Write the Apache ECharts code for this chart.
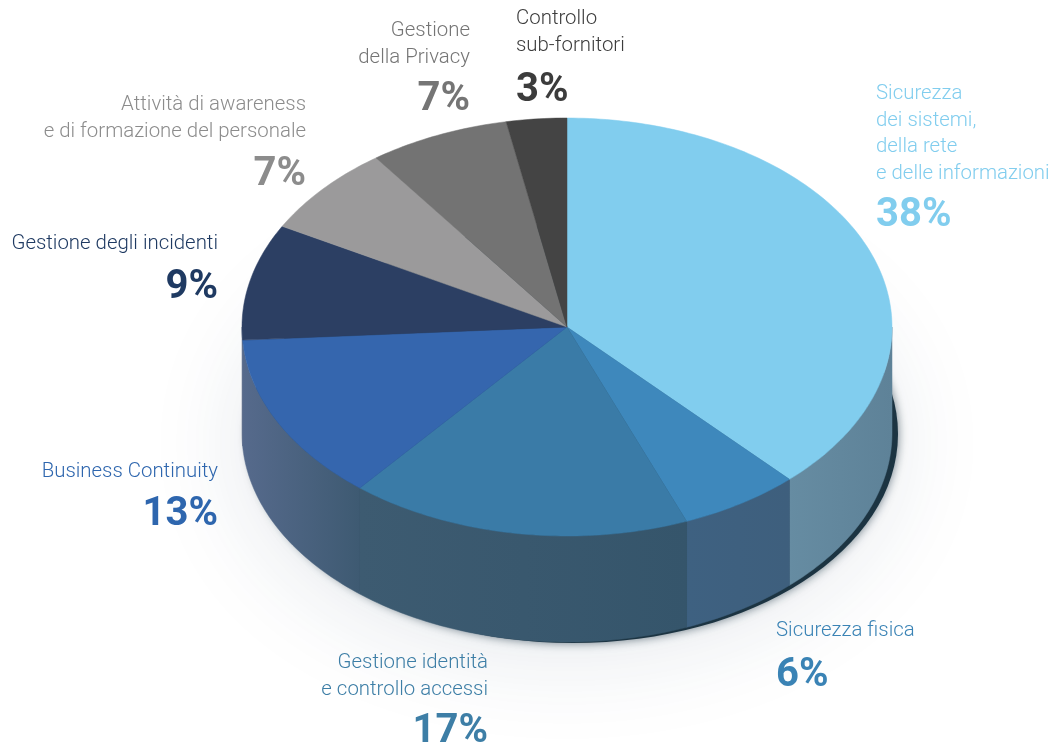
<!DOCTYPE html>
<html lang="it">
<head>
<meta charset="utf-8">
<title>Distribuzione degli interventi di sicurezza</title>
<style>
  html, body { margin: 0; padding: 0; background: #fff; }
  #chart { width: 1054px; height: 744px; }
</style>
<script src="https://cdn.jsdelivr.net/npm/echarts@6/dist/echarts.min.js"></script>
</head>
<body>
<div id="chart"></div>
<script>
// Slices, clockwise from twelve o'clock
const categories = [
  ['Sicurezza', 'dei sistemi,', 'della rete', 'e delle informazioni'],
  ['Sicurezza fisica'],
  ['Gestione identità', 'e controllo accessi'],
  ['Business Continuity'],
  ['Gestione degli incidenti'],
  ['Attività di awareness', 'e di formazione del personale'],
  ['Gestione', 'della Privacy'],
  ['Controllo', 'sub-fornitori']
];
const shares = [38, 6, 17, 13, 9, 7, 7, 3];

const topColors = ['#81cdee', '#3e88bc', '#3a7ba7', '#3566ae', '#2c3f63', '#9b9a9b', '#737373', '#444444'];
const wallColors = [
  ['#668ca2', '#5e8298'],
  ['#3e6181', '#3e5f7d'],
  ['#3d5b71', '#35556b'],
  ['#566a8c', '#3e5a72'],
  ['#5a6a88', '#566888'],
  ['#888', '#888'], ['#666', '#666'], ['#333', '#333']
];
const nameColors = ['#81cdee', '#3a83b5', '#3d7ea6', '#2e66ae', '#1f3a62', '#8c8c8c', '#757575', '#3c3c3c'];

// Label anchors: x, alignment, y of the first name line, y of the percentage
const labelLayout = [
  { x: 876, align: 'left',  nameY: 94,  pctY: 216 },
  { x: 776, align: 'left',  nameY: 631, pctY: 676 },
  { x: 488, align: 'right', nameY: 663, pctY: 732 },
  { x: 218, align: 'right', nameY: 472, pctY: 515 },
  { x: 218, align: 'right', nameY: 244, pctY: 288 },
  { x: 306, align: 'right', nameY: 105, pctY: 175 },
  { x: 470, align: 'right', nameY: 31,  pctY: 100 },
  { x: 516, align: 'left',  nameY: 19,  pctY: 91 }
];

// Pie projection
const CX = 567, CY = 327, RX = 325, RY = 209, DEPTH = 106;
const STEP = Math.PI / 180;
const total = shares.reduce((a, b) => a + b, 0);

function sliceAngles(i) {
  let before = 0;
  for (let k = 0; k < i; k++) before += shares[k];
  return [before / total * 2 * Math.PI, (before + shares[i]) / total * 2 * Math.PI];
}
function rimPoint(a, dy) {
  return [CX + RX * Math.sin(a), CY + dy - RY * Math.cos(a)];
}
function arcPoints(a0, a1, dy) {
  const pts = [];
  const n = Math.max(2, Math.ceil((a1 - a0) / STEP));
  for (let i = 0; i <= n; i++) pts.push(rimPoint(a0 + (a1 - a0) * i / n, dy));
  return pts;
}
function horizontal(c0, c1) {
  return new echarts.graphic.LinearGradient(0, 0, 1, 0, [
    { offset: 0, color: c0 }, { offset: 1, color: c1 }
  ]);
}

function renderShadow() {
  return {
    type: 'group',
    children: [
      { // wide pale halo on the ground
        type: 'ellipse',
        shape: { cx: CX, cy: CY + DEPTH + 10, rx: RX - 10, ry: RY - 10 },
        style: { fill: '#f4f6f8', shadowBlur: 110, shadowColor: 'rgba(30,60,90,0.14)' }
      },
      { // tight contact shadow along the base
        type: 'ellipse',
        shape: { cx: CX + 6, cy: CY + DEPTH + 1, rx: RX, ry: RY },
        style: { fill: '#1c3442', shadowBlur: 10, shadowColor: 'rgba(20,45,60,0.6)' }
      }
    ]
  };
}

function renderWall(params) {
  const i = params.dataIndex;
  const [a0, a1] = sliceAngles(i);
  const from = Math.max(a0, Math.PI / 2);
  const to = Math.min(a1, 3 * Math.PI / 2);
  if (to <= from) return { type: 'group', children: [] };
  const points = arcPoints(from, to, 0).concat(arcPoints(from, to, DEPTH).reverse());
  const fill = horizontal(wallColors[i][0], wallColors[i][1]);
  return {
    type: 'polygon',
    shape: { points },
    style: { fill, stroke: fill, lineWidth: 0.5 }
  };
}

function renderTop(params) {
  const i = params.dataIndex;
  const [a0, a1] = sliceAngles(i);
  const points = [[CX, CY]].concat(arcPoints(a0, a1, 0));
  return {
    type: 'polygon',
    shape: { points },
    style: { fill: topColors[i], stroke: topColors[i], lineWidth: 0.5 }
  };
}

function renderLabel(params, api) {
  const i = params.dataIndex;
  const l = labelLayout[i];
  const children = categories[i].map((line, k) => ({
    type: 'text',
    style: {
      text: line, x: l.x, y: l.nameY + k * 26.5,
      fill: nameColors[i], align: l.align, verticalAlign: 'middle',
      font: '300 20.4px Roboto'
    }
  }));
  children.push({
    type: 'text',
    style: {
      text: api.value(0) + '%', x: l.x, y: l.pctY,
      fill: nameColors[i], align: l.align, verticalAlign: 'middle',
      font: '700 40px Roboto'
    }
  });
  return { type: 'group', children };
}

const chart = echarts.init(document.getElementById('chart'), null, { renderer: 'canvas' });
const base = { type: 'custom', coordinateSystem: 'none', silent: true, animation: false };
chart.setOption({
  backgroundColor: '#ffffff',
  series: [
    Object.assign({}, base, { name: 'ombra', data: [0], renderItem: renderShadow, z: 1 }),
    Object.assign({}, base, { name: 'pareti', data: shares, renderItem: renderWall, z: 2 }),
    Object.assign({}, base, { name: 'quote', data: shares, renderItem: renderTop, z: 3 }),
    Object.assign({}, base, { name: 'etichette', data: shares, renderItem: renderLabel, z: 4 })
  ]
});
</script>
</body>
</html>
